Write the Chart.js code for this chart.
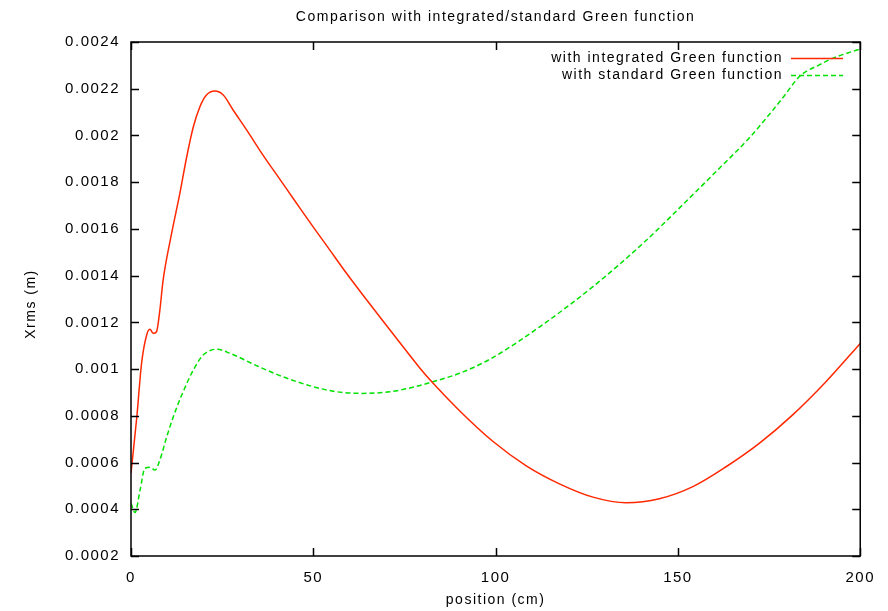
<!DOCTYPE html>
<html>
<head>
<meta charset="utf-8">
<script src="https://cdn.jsdelivr.net/npm/chart.js@4.4.1/dist/chart.umd.min.js"></script>
<style>
  html, body { margin: 0; padding: 0; background: #fff; }
  #wrap { width: 888px; height: 611px; }
</style>
</head>
<body>
<div id="wrap"><canvas id="c" width="888" height="611"></canvas></div>
<script>
// Beam size along the line, two Green-function variants
const positionsIntegrated = [0, 1.6, 2.9, 4.3, 5.2, 6.1, 7.0, 7.9, 8.8, 11, 13.4, 15.3, 17.1, 18.9, 20.7, 23.0, 25.3, 28.0, 31.7, 36.2, 40.8, 45.4, 49.9, 54.5, 59.1, 63.6, 68.2, 72.8, 79.2, 82.8, 90.1, 99.3, 108.4, 117.5, 126.7, 135.8, 144.9, 154.1, 163.2, 172.3, 181.4, 190.6, 200];
const xrmsIntegrated = [0.000555, 0.000796, 0.001025, 0.001146, 0.00117, 0.001153, 0.00116, 0.00125, 0.00138, 0.00157, 0.001752, 0.00191, 0.002037, 0.002123, 0.002173, 0.00219, 0.002173, 0.002109, 0.002024, 0.001916, 0.001813, 0.00171, 0.00161, 0.00151, 0.00141, 0.001317, 0.001224, 0.001132, 0.001005, 0.00094, 0.000822, 0.00069, 0.000586, 0.000509, 0.000452, 0.000428, 0.000445, 0.000497, 0.000582, 0.000682, 0.000803, 0.000946, 0.00111];

const positionsStandard = [0, 1.1, 2.5, 3.8, 5.2, 6.6, 7.9, 9.8, 11.6, 14.3, 17.1, 19.8, 23.5, 27.1, 34.4, 41.7, 49.9, 56.4, 63.6, 71, 77.3, 82.8, 90.1, 98.4, 112, 126.7, 140.4, 154, 161.4, 169.6, 178.7, 183.3, 185.1, 188.5, 192.4, 196, 200];
const xrmsStandard = [0.000426, 0.000386, 0.000483, 0.000575, 0.00058, 0.000568, 0.00061, 0.00071, 0.000796, 0.000903, 0.000996, 0.00106, 0.001085, 0.001068, 0.001015, 0.000967, 0.000925, 0.000903, 0.000896, 0.000903, 0.000922, 0.000946, 0.000982, 0.001042, 0.00118, 0.001353, 0.001538, 0.001745, 0.00186, 0.00199, 0.00216, 0.002252, 0.002273, 0.0023, 0.00233, 0.00235, 0.00237];

const xTickValues = [0, 50, 100, 150, 200];
const yTickValues = [0.0002, 0.0004, 0.0006, 0.0008, 0.001, 0.0012, 0.0014, 0.0016, 0.0018, 0.002, 0.0022, 0.0024];

const seriesNames = ['with integrated Green function', 'with standard Green function'];
const chartTitle = 'Comparison with integrated/standard Green function';
const xTitle = 'position (cm)';
const yTitle = 'Xrms (m)';

const RED = 'rgb(255,40,0)';
const GREEN = 'rgb(0,225,0)';
const FONT = '"Liberation Sans", Arial, sans-serif';
const SPACING = '1.5px';

const toPoints = (xs, ys) => xs.map((x, i) => ({ x, y: ys[i] }));

// gnuplot-style frame, inward ticks on all four sides, titles and key
const framePlugin = {
  id: 'frame',
  beforeLayout(chart) { chart.ctx.letterSpacing = SPACING; },
  beforeDraw(chart) { chart.ctx.letterSpacing = SPACING; },
  afterDatasetsDraw(chart) {
    const { ctx, chartArea: a, scales } = chart;
    ctx.save();
    ctx.strokeStyle = '#000';
    ctx.lineWidth = 1.5;
    ctx.strokeRect(a.left, a.top, a.right - a.left, a.bottom - a.top);
    const tl = 8;
    ctx.beginPath();
    xTickValues.forEach(v => {
      const px = Math.round(scales.x.getPixelForValue(v)) + 0.5;
      ctx.moveTo(px, a.bottom); ctx.lineTo(px, a.bottom - tl);
      ctx.moveTo(px, a.top); ctx.lineTo(px, a.top + tl);
    });
    yTickValues.forEach(v => {
      const py = Math.round(scales.y.getPixelForValue(v)) + 0.5;
      ctx.moveTo(a.left, py); ctx.lineTo(a.left + tl, py);
      ctx.moveTo(a.right, py); ctx.lineTo(a.right - tl, py);
    });
    ctx.stroke();

    // key, top right inside the frame
    ctx.letterSpacing = SPACING;
    ctx.font = '14px ' + FONT;
    ctx.textAlign = 'right';
    ctx.textBaseline = 'middle';
    const keyRows = [
      { text: seriesNames[0], color: RED, dash: [] },
      { text: seriesNames[1], color: GREEN, dash: [5, 3] }
    ];
    keyRows.forEach((r, i) => {
      const y = 58 + i * 17;
      ctx.fillStyle = '#000';
      ctx.fillText(r.text, 783, y);
      ctx.strokeStyle = r.color;
      ctx.lineWidth = 1.3;
      ctx.setLineDash(r.dash);
      ctx.beginPath();
      ctx.moveTo(791, y + 0.5); ctx.lineTo(843, y + 0.5);
      ctx.stroke();
      ctx.setLineDash([]);
    });
    ctx.restore();
  },
  afterDraw(chart) {
    const { ctx, chartArea: a } = chart;
    ctx.save();
    ctx.letterSpacing = SPACING;
    ctx.fillStyle = '#000';
    ctx.font = '14px ' + FONT;
    ctx.textAlign = 'center';
    ctx.textBaseline = 'middle';
    const cx = (a.left + a.right) / 2;
    ctx.fillText(chartTitle, cx, 17);
    ctx.fillText(xTitle, cx, 600);
    ctx.translate(31, 304);
    ctx.rotate(-Math.PI / 2);
    ctx.fillText(yTitle, 0, 0);
    ctx.restore();
  }
};

new Chart(document.getElementById('c'), {
  type: 'line',
  data: {
    datasets: [
      {
        label: seriesNames[0],
        data: toPoints(positionsIntegrated, xrmsIntegrated),
        borderColor: RED,
        borderWidth: 1.5,
        pointRadius: 0,
        cubicInterpolationMode: 'monotone',
        fill: false
      },
      {
        label: seriesNames[1],
        data: toPoints(positionsStandard, xrmsStandard),
        borderColor: GREEN,
        borderWidth: 1.5,
        borderDash: [5, 3],
        pointRadius: 0,
        cubicInterpolationMode: 'monotone',
        fill: false
      }
    ]
  },
  options: {
    responsive: false,
    animation: false,
    layout: { padding: { left: 0, right: 27, top: 42, bottom: 0 } },
    plugins: {
      legend: { display: false },
      title: { display: false },
      tooltip: { enabled: false }
    },
    scales: {
      x: {
        type: 'linear',
        min: 0,
        max: 200,
        afterBuildTicks: s => { s.ticks = xTickValues.map(v => ({ value: v })); },
        afterFit: s => { s.height = 55; },
        grid: { display: false, drawTicks: false },
        border: { display: false },
        ticks: {
          padding: 13,
          color: '#000',
          font: { family: FONT, size: 15 },
          maxRotation: 0,
          callback: v => String(v)
        }
      },
      y: {
        type: 'linear',
        min: 0.0002,
        max: 0.0024,
        afterBuildTicks: s => { s.ticks = yTickValues.map(v => ({ value: v })); },
        afterFit: s => { s.width = 131; },
        grid: { display: false, drawTicks: false },
        border: { display: false },
        ticks: {
          padding: 11,
          color: '#000',
          font: { family: FONT, size: 15 },
          callback: v => String(+v.toPrecision(6))
        }
      }
    }
  },
  plugins: [framePlugin]
});
</script>
</body>
</html>
